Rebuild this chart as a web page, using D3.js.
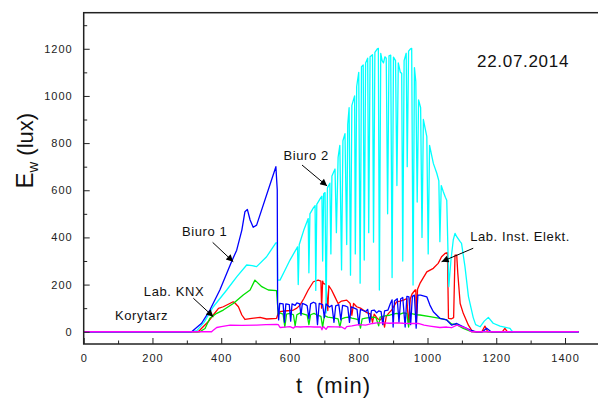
<!DOCTYPE html>
<html>
<head>
<meta charset="utf-8">
<script src="https://d3js.org/d3.v7.min.js"></script>
<style>
  body { margin: 0; background: #fff; }
  svg { display: block; font-family: Arial, "Liberation Sans", sans-serif; }
</style>
</head>
<body>
<svg width="598" height="399"></svg>
<script>
// values: [t (min), Ew (lux)]
var biuro1 = [[0,0],[314,0],[343,36],[367,92],[396,177],[430,297],[445,346],[460,431],[469,509],[476,519],[484,474],[493,443],[503,452],[559,700],[563,601],
  [564,120],[567,50],[570,120],[580,118],[584,40],[588,118],[598,115],[602,45],[606,118],[615,112],[620,122],[628,118],[632,70],[636,120],[645,115],
  [650,110],[655,55],[660,118],[668,125],[675,120],[680,30],[685,120],[695,115],[700,60],[705,118],[715,105],[722,112],[728,40],[733,110],[742,115],
  [748,50],[753,112],[760,110],[768,105],[773,40],[778,105],[787,100],[795,95],[800,30],[805,95],[812,90],[820,85],[826,95],[832,40],[837,90],
  [845,92],[852,80],[858,88],[865,85],[870,30],[875,88],[885,92],[892,120],[897,135],[900,20],[904,130],[912,140],[917,40],[922,140],[928,145],
  [935,20],[940,150],[946,148],[951,30],[956,150],[962,155],[967,15],[972,155],[980,155],[998,148],[1007,113],[1017,85],[1036,57],[1056,50],
  [1070,28],[1085,35],[1104,21],[1124,7],[1140,0],[1160,0],[1172,15],[1185,0],[1440,0]];

var biuro2 = [[0,0],[315,0],[329,5],[350,40],[377,106],[416,177],[445,233],[474,283],[490,280],[503,276],[532,318],[559,377],[563,377],[564,219],
  [571,219],[585,260],[600,304],[622,360],[624,200],[627,370],[640,430],[653,480],[655,250],[658,500],[668,525],[673,535],[675,175],[678,540],
  [690,570],[693,575],[695,300],[698,585],[702,590],[705,80],[709,610],[716,630],[719,330],[722,660],[731,690],[735,420],[740,740],[745,790],
  [750,262],[754,810],[760,840],[765,370],[768,880],[772,950],[776,240],[780,960],[788,1000],[790,330],[794,1040],[800,1100],[804,206],[808,1124],
  [813,1131],[816,304],[820,1140],[826,1160],[829,420],[833,1166],[840,1175],[843,380],[847,1185],[854,1200],[857,1202],[860,177],[864,1180],
  [868,1150],[872,1140],[876,1166],[880,1160],[884,500],[888,1170],[893,1173],[897,230],[901,1165],[907,1150],[911,620],[915,1140],[921,1100],
  [925,1096],[928,300],[932,1150],[938,1181],[941,700],[945,1190],[951,1200],[954,1202],[958,198],[962,1120],[966,1060],[970,550],[974,983],
  [980,950],[984,400],[988,900],[998,827],[1002,330],[1006,790],[1017,714],[1027,672],[1033,640],[1036,382],[1040,620],[1046,594],[1052,570],
  [1056,558],[1062,191],[1068,300],[1075,390],[1080,417],[1085,403],[1095,382],[1099,375],[1109,276],[1119,150],[1133,60],[1140,30],[1153,21],
  [1165,45],[1177,61],[1191,36],[1211,24],[1240,14],[1245,4],[1250,0],[1440,0]];

var labKnx = [[0,0],[338,0],[353,14],[367,57],[387,78],[406,92],[435,120],[464,156],[484,177],[498,219],[518,191],[537,177],[561,174],[566,71],
  [570,80],[580,75],[585,20],[590,75],[600,78],[610,72],[615,25],[620,72],[630,80],[640,75],[650,70],[655,30],[660,72],[670,78],[680,70],[690,65],
  [695,20],[700,68],[710,62],[720,60],[730,58],[740,55],[745,20],[750,55],[760,60],[770,62],[780,58],[790,55],[800,50],[805,15],[810,55],[820,58],
  [830,60],[840,62],[850,60],[858,25],[862,62],[870,65],[880,68],[890,70],[900,75],[910,78],[920,75],[930,80],[940,78],[945,20],[950,78],[960,75],
  [970,72],[978,71],[1007,64],[1036,57],[1056,50],[1070,33],[1085,30],[1104,14],[1128,0],[1440,0]];

var labInst = [[0,0],[333,0],[362,42],[377,71],[392,99],[406,106],[435,127],[440,122],[450,106],[460,71],[469,52],[489,57],[513,61],[532,54],
  [561,57],[566,80],[571,85],[585,88],[600,90],[610,92],[620,100],[629,113],[640,140],[653,177],[668,212],[682,219],[690,215],[692,100],[695,215],
  [697,205],[705,200],[710,90],[713,195],[721,177],[730,150],[740,120],[750,130],[765,134],[775,120],[780,70],[785,120],[794,106],[805,100],
  [813,92],[825,80],[835,75],[840,40],[845,75],[855,55],[862,50],[870,60],[875,20],[880,65],[888,80],[896,92],[905,115],[910,127],[920,130],
  [930,134],[940,140],[945,30],[950,140],[955,160],[964,177],[966,177],[968,40],[971,180],[978,205],[998,254],[1017,269],[1031,290],[1041,318],
  [1051,332],[1058,335],[1061,57],[1070,55],[1076,60],[1080,325],[1085,325],[1088,250],[1095,120],[1104,78],[1119,28],[1128,7],[1135,0],
  [1158,0],[1167,24],[1175,0],[1218,0],[1225,14],[1232,0],[1440,0]];

var korytarz = [[0,0],[372,0],[375,4],[387,18],[400,22],[426,28],[460,27],[503,28],[530,30],[561,31],[566,30],[571,18],[585,20],[600,22],
  [610,15],[615,22],[630,20],[650,22],[670,20],[690,20],[693,8],[697,22],[705,10],[710,22],[730,21],[750,20],[760,12],[765,22],[780,25],
  [800,30],[820,28],[840,35],[852,38],[870,38],[890,36],[910,38],[930,36],[950,35],[973,35],[990,28],[1007,24],[1036,18],[1056,20],
  [1070,17],[1085,28],[1100,22],[1114,14],[1128,0],[1440,0]];

var xTicks = [0, 200, 400, 600, 800, 1000, 1200, 1400];
var yTicks = [0, 200, 400, 600, 800, 1000, 1200];
var xMinor = [100, 300, 500, 700, 900, 1100, 1300];
var yMinor = [100, 300, 500, 700, 900, 1100, 1300];

var seriesColors = ["#ff0000", "#00e000", "#00ffff", "#0000ff", "#ff00ff"];
var seriesData = [labInst, labKnx, biuro2, biuro1, korytarz];

// label positions in data units
var labels = [
  {text: "Biuro 2", at: [581, 728], arrow: [[635, 707], [708, 618]]},
  {text: "Biuro 1", at: [286, 407], arrow: [[375, 379], [435, 297]]},
  {text: "Lab. KNX", at: [175, 153], arrow: [[319, 142], [377, 64]]},
  {text: "Korytarz", at: [91, 50], arrow: null},
  {text: "Lab. Inst. Elekt.", at: [1124, 386], arrow: [[1133, 354], [1041, 297]]}
];

var svg = d3.select("svg");
var x = d3.scaleLinear().domain([0, 1500]).range([83.7, 599.4]);
var y = d3.scaleLinear().domain([-52, 1353]).range([344, 12.7]);

svg.append("defs").append("marker")
  .attr("id", "head")
  .attr("viewBox", "0 0 10 10")
  .attr("refX", 10).attr("refY", 5)
  .attr("markerWidth", 9).attr("markerHeight", 7)
  .attr("markerUnits", "userSpaceOnUse")
  .attr("orient", "auto")
  .append("path").attr("d", "M0,0L10,5L0,10Z").attr("fill", "#000");

var line = d3.line().x(function(d) { return x(d[0]); }).y(function(d) { return y(d[1]); });

var plot = svg.append("g");
seriesData.forEach(function(s, i) {
  plot.append("path")
    .datum(s)
    .attr("d", line)
    .attr("fill", "none")
    .attr("stroke", seriesColors[i])
    .attr("stroke-width", 1.3)
    .attr("stroke-linejoin", "round");
});

// axes, ticks pointing inward
svg.append("g")
  .attr("transform", "translate(" + x(0) + ",0)")
  .call(d3.axisLeft(y).tickValues(yTicks).tickSize(-6).tickPadding(11).tickFormat(d3.format("d")));
svg.append("g")
  .attr("transform", "translate(" + x(0) + ",0)")
  .call(d3.axisLeft(y).tickValues(yMinor).tickSize(-3.5).tickFormat(""));

svg.append("g")
  .attr("transform", "translate(0," + y(-52) + ")")
  .call(d3.axisBottom(x).tickValues(xTicks).tickSize(-6).tickPadding(10).tickFormat(d3.format("d")));
svg.append("g")
  .attr("transform", "translate(0," + y(-52) + ")")
  .call(d3.axisBottom(x).tickValues(xMinor).tickSize(-3.5).tickFormat(""));

svg.selectAll(".domain").remove();
svg.selectAll(".tick line").attr("stroke", "#222");
svg.selectAll(".tick text")
  .attr("font-family", "Arial, 'Liberation Sans', sans-serif")
  .attr("font-size", 11)
  .attr("letter-spacing", 1)
  .attr("fill", "#222");

svg.append("rect")
  .attr("x", x(0)).attr("y", y(1353))
  .attr("width", x(1500) - x(0)).attr("height", y(-52) - y(1353))
  .attr("fill", "none").attr("stroke", "#222").attr("stroke-width", 1.5);

// axis titles
var yt = svg.append("text")
  .attr("transform", "translate(33,188.5) rotate(-90)")
  .attr("fill", "#111");
yt.append("tspan").attr("font-size", 24).text("E");
yt.append("tspan").attr("font-size", 15).attr("dy", 5).text("w");
yt.append("tspan").attr("font-size", 22).attr("dy", -5).attr("dx", 6).text("(lux)");

var xt = svg.append("text").attr("y", 392.5).attr("fill", "#111").attr("font-size", 22);
xt.append("tspan").attr("x", 296).text("t");
xt.append("tspan").attr("x", 316).attr("letter-spacing", 1).text("(min)");

svg.append("text")
  .attr("x", x(1144)).attr("y", y(1124))
  .attr("font-size", 17).attr("letter-spacing", 0.7)
  .attr("fill", "#111")
  .text("22.07.2014");

labels.forEach(function(l) {
  svg.append("text")
    .attr("x", x(l.at[0])).attr("y", y(l.at[1]))
    .attr("font-size", 13).attr("letter-spacing", 0.6)
    .attr("fill", "#111")
    .text(l.text);
  if (l.arrow) {
    svg.append("line")
      .attr("x1", x(l.arrow[0][0])).attr("y1", y(l.arrow[0][1]))
      .attr("x2", x(l.arrow[1][0])).attr("y2", y(l.arrow[1][1]))
      .attr("stroke", "#000").attr("stroke-width", 1)
      .attr("marker-end", "url(#head)");
  }
});
</script>
</body>
</html>
